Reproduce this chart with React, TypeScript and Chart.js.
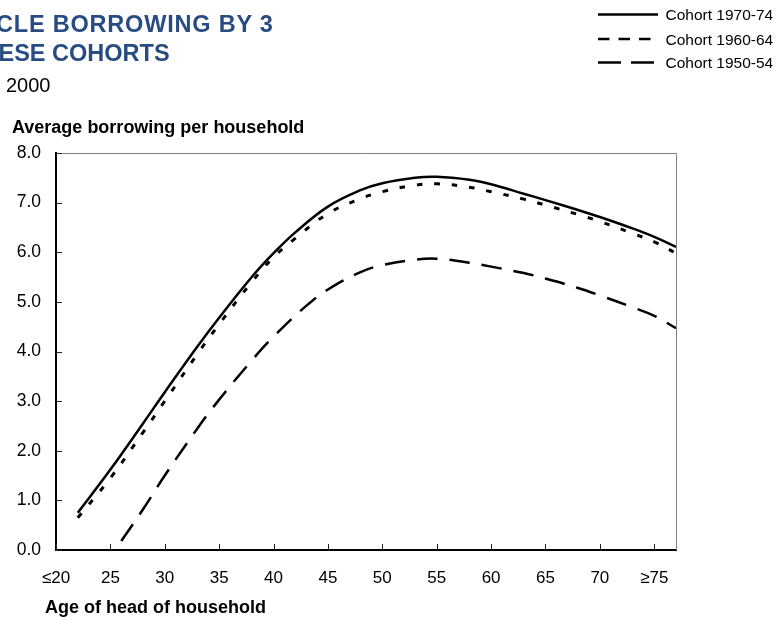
import React, { useEffect, useRef } from 'react';
import { Chart, registerables } from 'chart.js';

Chart.register(...registerables);

const FONT = '"Liberation Sans", Arial, Helvetica, sans-serif';

// Data (age of head of household -> average borrowing per household)
const ages1970 = [22, 25, 28, 30, 33, 35, 38, 40, 42, 45, 48, 50, 53, 55, 58, 60, 63, 65, 68, 70, 73, 75, 77];
const cohort1970 = [0.75, 1.62, 2.55, 3.18, 4.1, 4.68, 5.5, 5.98, 6.4, 6.92, 7.25, 7.39, 7.5, 7.52, 7.46, 7.37, 7.18, 7.05, 6.85, 6.71, 6.48, 6.31, 6.11];
const ages1960 = [22, 25, 28, 30, 33, 35, 38, 40, 42, 45, 48, 50, 53, 55, 58, 60, 63, 65, 68, 70, 73, 75, 77];
const cohort1960 = [0.65, 1.45, 2.37, 3.0, 3.95, 4.55, 5.4, 5.9, 6.28, 6.78, 7.08, 7.22, 7.35, 7.38, 7.31, 7.22, 7.07, 6.95, 6.76, 6.62, 6.38, 6.21, 5.98];
const ages1950 = [26, 28, 30, 33, 35, 38, 40, 43, 45, 48, 50, 53, 55, 58, 60, 63, 65, 68, 70, 73, 75, 77];
const cohort1950 = [0.18, 0.82, 1.5, 2.45, 3.03, 3.82, 4.3, 4.92, 5.25, 5.6, 5.74, 5.85, 5.87, 5.79, 5.71, 5.58, 5.47, 5.28, 5.13, 4.89, 4.72, 4.47];

const seriesLabels = ['Cohort 1970-74', 'Cohort 1960-64', 'Cohort 1950-54'];
const xTicks = [20, 25, 30, 35, 40, 45, 50, 55, 60, 65, 70, 75];
const yTicks = [0, 1, 2, 3, 4, 5, 6, 7, 8];
const xMin = 20;
const xMax = 77;

const chartDashes = [[], [5.5, 12], [20.5, 12]];
const legendDashes = [[], [11.5, 9], [23, 10]];
const lineWidths = [2.5, 3, 2.5];

function toPoints(xs: number[], ys: number[]) {
  return xs.map((x, i) => ({ x, y: ys[i] }));
}

const decorPlugin = {
  id: 'decor',
  beforeDatasetsDraw(chart: any) {
    const { ctx, chartArea } = chart;
    ctx.save();
    ctx.strokeStyle = '#7f7f7f';
    ctx.lineWidth = 1;
    ctx.beginPath();
    ctx.moveTo(chartArea.left, chartArea.top + 0.5);
    ctx.lineTo(chartArea.right + 0.5, chartArea.top + 0.5);
    ctx.lineTo(chartArea.right + 0.5, chartArea.bottom);
    ctx.stroke();
    // inside tick marks
    ctx.strokeStyle = '#222';
    const xs = chart.scales.x;
    const ys = chart.scales.y;
    ctx.beginPath();
    yTicks.forEach((v) => {
      const py = Math.round(ys.getPixelForValue(v)) + 0.5;
      ctx.moveTo(chartArea.left, py);
      ctx.lineTo(chartArea.left + 6, py);
    });
    xTicks.forEach((v) => {
      const px = Math.round(xs.getPixelForValue(v)) + 0.5;
      ctx.moveTo(px, chartArea.bottom);
      ctx.lineTo(px, chartArea.bottom - 6);
    });
    ctx.stroke();
    ctx.restore();
  },
  afterDraw(chart: any) {
    const { ctx } = chart;
    ctx.save();
    const rowY = [14.5, 39, 62.5];
    seriesLabels.forEach((label, i) => {
      ctx.strokeStyle = '#000';
      ctx.lineWidth = 2.5;
      ctx.setLineDash(legendDashes[i]);
      ctx.beginPath();
      ctx.moveTo(598, rowY[i]);
      ctx.lineTo(658, rowY[i]);
      ctx.stroke();
      ctx.setLineDash([]);
      ctx.fillStyle = '#000';
      ctx.font = `15.5px ${FONT}`;
      ctx.textAlign = 'left';
      ctx.textBaseline = 'alphabetic';
      ctx.fillText(label, 665.5, rowY[i] + 5.5);
    });
    ctx.restore();
  },
};

export default function App() {
  const canvasRef = useRef<HTMLCanvasElement | null>(null);

  useEffect(() => {
    if (!canvasRef.current) return;
    Chart.defaults.font.family = FONT;
    const mk = (i: number, xs: number[], ys: number[]) => ({
      label: seriesLabels[i],
      data: toPoints(xs, ys),
      borderColor: '#000',
      borderWidth: lineWidths[i],
      borderDash: chartDashes[i],
      pointRadius: 0,
      tension: 0.4,
      fill: false,
    });
    const chart = new Chart(canvasRef.current, {
      type: 'line',
      data: {
        datasets: [mk(0, ages1970, cohort1970), mk(1, ages1960, cohort1960), mk(2, ages1950, cohort1950)],
      },
      options: {
        responsive: false,
        animation: false,
        devicePixelRatio: 1,
        layout: { padding: { left: 10, right: 102, top: 153, bottom: 10 } },
        plugins: {
          legend: { display: false },
          tooltip: { enabled: false },
          title: { display: false },
        },
        scales: {
          x: {
            type: 'linear',
            min: xMin,
            max: xMax,
            afterBuildTicks: (scale: any) => {
              scale.ticks = xTicks.map((v) => ({ value: v }));
            },
            afterFit: (scale: any) => {
              scale.height = 60;
            },
            grid: { display: false, drawTicks: false, tickLength: 0 },
            border: { display: true, color: '#000', width: 2 },
            ticks: {
              color: '#000',
              font: { size: 17 },
              padding: 18,
              maxRotation: 0,
              autoSkip: false,
              callback: (v: any) => (v === 20 ? '≤20' : v === 75 ? '≥75' : String(v)),
            },
          },
          y: {
            type: 'linear',
            min: 0,
            max: 8,
            afterBuildTicks: (scale: any) => {
              scale.ticks = yTicks.map((v) => ({ value: v }));
            },
            afterFit: (scale: any) => {
              scale.width = 46;
            },
            grid: { display: false, drawTicks: false, tickLength: 0 },
            border: { display: true, color: '#000', width: 2 },
            ticks: {
              color: '#000',
              font: { size: 17.5 },
              padding: 15,
              callback: (v: any) => Number(v).toFixed(1),
            },
          },
        },
      },
      plugins: [decorPlugin],
    } as any);
    return () => chart.destroy();
  }, []);

  const base: React.CSSProperties = {
    position: 'absolute',
    fontFamily: FONT,
    lineHeight: 1,
    whiteSpace: 'nowrap',
    margin: 0,
  };

  return (
    <div style={{ position: 'absolute', left: 0, top: 0, width: 778, height: 620, overflow: 'hidden', background: '#fff' }}>
      <canvas ref={canvasRef} width={778} height={620} style={{ position: 'absolute', left: 0, top: 0 }} />
      <div style={{ ...base, left: -4, top: 12.8, fontSize: 23.5, letterSpacing: 0.8, fontWeight: 'bold', color: '#284b83' }}>
        CLE BORROWING BY 3
      </div>
      <div style={{ ...base, left: -1.5, top: 41.8, fontSize: 23.5, fontWeight: 'bold', color: '#284b83' }}>
        ESE COHORTS
      </div>
      <div style={{ ...base, left: 6, top: 75.4, fontSize: 20, color: '#000' }}>2000</div>
      <div style={{ ...base, left: 12, top: 117.8, fontSize: 18, fontWeight: 'bold', color: '#000' }}>
        Average borrowing per household
      </div>
      <div style={{ ...base, left: 45, top: 598, fontSize: 18, fontWeight: 'bold', color: '#000' }}>
        Age of head of household
      </div>
    </div>
  );
}
